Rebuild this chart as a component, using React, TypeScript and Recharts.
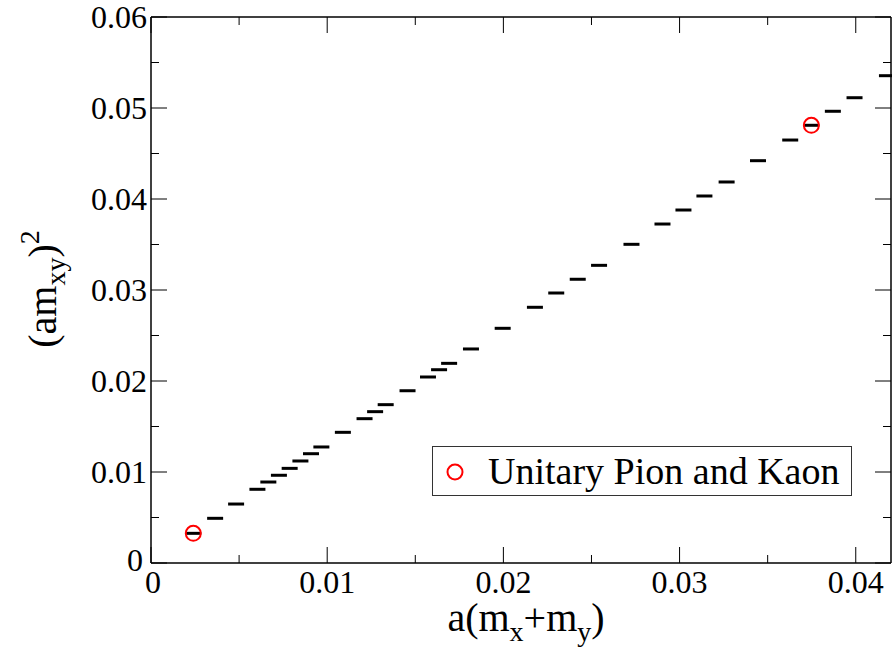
import { Scatter, ScatterChart, XAxis, YAxis } from "recharts";

// partially quenched points: a(mx+my) vs (amxy)^2
const pqX = [
  0.0024, 0.00364, 0.00483, 0.00604, 0.00666, 0.00726, 0.00787, 0.00848, 0.00908,
  0.00967, 0.01089, 0.01212, 0.01272, 0.01332, 0.01456, 0.01572, 0.01635, 0.01692,
  0.01816, 0.01996, 0.02179, 0.023, 0.02422, 0.02543, 0.02727, 0.02903, 0.03022,
  0.03141, 0.03267, 0.03445, 0.03628, 0.03748, 0.0387, 0.03993, 0.04177,
];
const pqY = [
  0.00326, 0.00491, 0.00648, 0.0081, 0.0089, 0.00964, 0.0104, 0.01121, 0.01201,
  0.01275, 0.01436, 0.01586, 0.01663, 0.0174, 0.01893, 0.02044, 0.02124, 0.02194,
  0.02352, 0.02579, 0.0281, 0.02967, 0.03118, 0.03271, 0.03502, 0.03725, 0.03879,
  0.04033, 0.04187, 0.04421, 0.04648, 0.0481, 0.04964, 0.05113, 0.05355,
];

// unitary pion and kaon
const uniX = [0.0024, 0.03748];
const uniY = [0.00326, 0.0481];

const xTicks = [0, 0.005, 0.01, 0.015, 0.02, 0.025, 0.03, 0.035, 0.04];
const yTicks = [0, 0.005, 0.01, 0.015, 0.02, 0.025, 0.03, 0.035, 0.04, 0.045, 0.05, 0.055, 0.06];

const pqData = pqX.map((x, i) => ({ x, y: pqY[i] }));
const uniData = uniX.map((x, i) => ({ x, y: uniY[i] }));

const FONT = "'Liberation Serif', 'Times New Roman', serif";
const TICK_FONT = 32;
const MAJOR = 16;
const MINOR = 8;

const isMajor = (v: number) => Math.abs(v * 100 - Math.round(v * 100)) < 1e-6;
const fmt = (v: number) => (v === 0 ? "0" : v.toFixed(2));

function BottomTick({ x, y, payload }: any) {
  const v = payload.value;
  const len = isMajor(v) ? MAJOR : MINOR;
  return (
    <g>
      <line x1={x} x2={x} y1={y} y2={y - len} stroke="#000" />
      {isMajor(v) && (
        <text x={x + (v === 0 ? 2 : 0)} y={y + 30} textAnchor="middle" fontFamily={FONT} fontSize={TICK_FONT} fill="#000">
          {fmt(v)}
        </text>
      )}
    </g>
  );
}

function TopTick({ x, y, payload }: any) {
  const len = isMajor(payload.value) ? MAJOR : MINOR;
  return <line x1={x} x2={x} y1={y} y2={y + len} stroke="#000" />;
}

function LeftTick({ x, y, payload }: any) {
  const v = payload.value;
  const len = isMajor(v) ? MAJOR : MINOR;
  return (
    <g>
      <line x1={x} x2={x + len} y1={y} y2={y} stroke="#000" />
      {isMajor(v) && (
        <text x={x - (v === 0 ? 8 : 4)} y={y + (v === 0 ? 8 : 11)} textAnchor="end" fontFamily={FONT} fontSize={TICK_FONT} fill="#000">
          {fmt(v)}
        </text>
      )}
    </g>
  );
}

function RightTick({ x, y, payload }: any) {
  const len = isMajor(payload.value) ? MAJOR : MINOR;
  return <line x1={x} x2={x - len} y1={y} y2={y} stroke="#000" />;
}

function Dash({ cx, cy }: any) {
  return <line x1={cx - 8} x2={cx + 8} y1={cy} y2={cy} stroke="#000" strokeWidth={3} />;
}

function RedCircle({ cx, cy }: any) {
  return <circle cx={cx} cy={cy} r={7.5} fill="none" stroke="#ff0000" strokeWidth={2} />;
}

function Nothing() {
  return <g />;
}

function YTitle() {
  return (
    <text
      x={56}
      y={289}
      transform="rotate(-90, 56, 289)"
      textAnchor="middle"
      fontFamily={FONT}
      fontSize={40}
      fill="#000"
    >
      (am
      <tspan fontSize={28} dy={9}>xy</tspan>
      <tspan dy={-9}>)</tspan>
      <tspan fontSize={28} dy={-17}>2</tspan>
    </text>
  );
}

function XTitle() {
  return (
    <text x={526} y={631} textAnchor="middle" fontFamily={FONT} fontSize={40} fill="#000">
      a(m
      <tspan fontSize={28} dy={10}>x</tspan>
      <tspan dy={-10}>+m</tspan>
      <tspan fontSize={28} dy={10}>y</tspan>
      <tspan dy={-10}>)</tspan>
    </text>
  );
}

export default function App() {
  return (
    <div style={{ position: "absolute", left: 0, top: 0, width: 892, height: 652, background: "#fff" }}>
      <ScatterChart width={892} height={652} margin={{ top: 16, right: 0, bottom: 0, left: 0 }}>
        <XAxis
          xAxisId="b"
          type="number"
          dataKey="x"
          domain={[0, 0.042]}
          ticks={xTicks}
          interval={0}
          height={89}
          tickSize={0}
          tickMargin={0}
          tick={<BottomTick />}
          axisLine={{ stroke: "#000", strokeWidth: 1.5 }}
          label={<XTitle />}
        />
        <XAxis
          xAxisId="t"
          orientation="top"
          type="number"
          dataKey="x"
          domain={[0, 0.042]}
          ticks={xTicks}
          interval={0}
          height={1}
          tickSize={0}
          tickMargin={0}
          tick={<TopTick />}
          axisLine={{ stroke: "#000", strokeWidth: 1.5 }}
        />
        <YAxis
          yAxisId="l"
          type="number"
          dataKey="y"
          domain={[0, 0.06]}
          ticks={yTicks}
          interval={0}
          width={151}
          tickSize={0}
          tickMargin={0}
          tick={<LeftTick />}
          axisLine={{ stroke: "#000", strokeWidth: 1.5 }}
          label={<YTitle />}
        />
        <YAxis
          yAxisId="r"
          orientation="right"
          type="number"
          dataKey="y"
          domain={[0, 0.06]}
          ticks={yTicks}
          interval={0}
          width={1}
          tickSize={0}
          tickMargin={0}
          tick={<RightTick />}
          axisLine={{ stroke: "#000", strokeWidth: 1.5 }}
        />
        <Scatter xAxisId="t" yAxisId="r" data={uniData} shape={<Nothing />} isAnimationActive={false} />
        <Scatter xAxisId="b" yAxisId="l" data={pqData} shape={<Dash />} isAnimationActive={false} />
        <Scatter xAxisId="b" yAxisId="l" data={uniData} shape={<RedCircle />} isAnimationActive={false} />
      </ScatterChart>
      <div
        style={{
          position: "absolute",
          left: 432,
          top: 446,
          width: 420,
          height: 50,
          border: "1px solid #333",
          boxSizing: "border-box",
          background: "#fff",
          fontFamily: FONT,
          fontSize: 38,
          lineHeight: "48px",
          color: "#000",
          whiteSpace: "nowrap",
        }}
      >
        <svg width={20} height={20} style={{ position: "absolute", left: 12, top: 15 }}>
          <circle cx={10} cy={10} r={7.5} fill="none" stroke="#ff0000" strokeWidth={2} />
        </svg>
        <span style={{ position: "absolute", left: 55, top: 0 }}>Unitary Pion and Kaon</span>
      </div>
    </div>
  );
}
